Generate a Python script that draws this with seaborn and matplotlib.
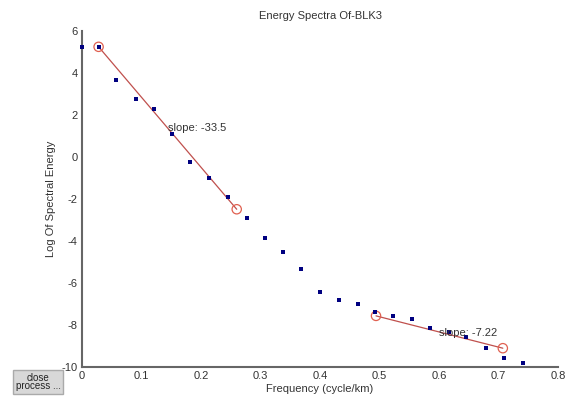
import matplotlib
matplotlib.use("Agg")
import matplotlib.pyplot as plt
import seaborn as sns
import pandas as pd

# spectrum points (frequency cycle/km, log spectral energy)
freq = [0.0, 0.028, 0.058, 0.090, 0.1215, 0.152, 0.182, 0.214, 0.245, 0.277,
        0.3076, 0.337, 0.3686, 0.40, 0.431, 0.463, 0.492, 0.523, 0.555, 0.585,
        0.616, 0.645, 0.678, 0.709, 0.741]
log_energy = [5.25, 5.25, 3.67, 2.76, 2.30, 1.08, -0.24, -1.0, -1.92, -2.92,
              -3.87, -4.54, -5.33, -6.41, -6.83, -7.01, -7.40, -7.57, -7.71, -8.13,
              -8.35, -8.6, -9.08, -9.56, -9.8]

# fitted segments (end points picked by user)
fit1_x = [0.028, 0.26]
fit1_y = [5.25, -2.49]
fit2_x = [0.494, 0.707]
fit2_y = [-7.57, -9.11]
slope_labels = ["slope: -33.5", "slope: -7.22"]
label_pos = [(0.144, 1.38), (0.60, -8.38)]

sns.set_style("white")
plt.rcParams["font.family"] = ["Liberation Sans", "DejaVu Sans"]
plt.rcParams["axes.unicode_minus"] = False

fig = plt.figure(figsize=(5.69, 4.09), dpi=100)
ax = fig.add_axes([0.144, 0.103, 0.837, 0.821])

df = pd.DataFrame({"freq": freq, "energy": log_energy})
sns.scatterplot(data=df, x="freq", y="energy", ax=ax, color="#000080",
                marker="s", s=8, linewidth=0, clip_on=False, zorder=4)

line_col = "#c0504d"
for fx, fy in [(fit1_x, fit1_y), (fit2_x, fit2_y)]:
    sns.lineplot(x=fx, y=fy, ax=ax, color=line_col, linewidth=0.9)
    ax.scatter(fx, fy, s=45, facecolors="none", edgecolors="#e06050", linewidths=0.9, zorder=3)

for txt, (tx, ty) in zip(slope_labels, label_pos):
    ax.text(tx, ty, txt, fontsize=8, color="#333333", va="center", ha="left", zorder=5)

ax.set_xlim(0, 0.8)
ax.set_ylim(-10, 6)
ax.set_xticks([0, 0.1, 0.2, 0.3, 0.4, 0.5, 0.6, 0.7, 0.8])
ax.set_xticklabels(["0", "0.1", "0.2", "0.3", "0.4", "0.5", "0.6", "0.7", "0.8"])
ax.set_yticks(range(-10, 7, 2))
ax.set_title("Energy Spectra Of-BLK3", fontsize=8, color="#333333", pad=9)
ax.set_xlabel("Frequency (cycle/km)", fontsize=8, color="#333333", labelpad=2)
ax.set_ylabel("Log Of Spectral Energy", fontsize=8, color="#333333", labelpad=4)

for s in ["top", "right"]:
    ax.spines[s].set_visible(False)
for s in ["left", "bottom"]:
    ax.spines[s].set_color("#666666")
    ax.spines[s].set_linewidth(1.5)
ax.tick_params(direction="in", length=4, width=0.8, colors="#555555",
               labelsize=8, labelcolor="#333333", pad=3)

# leftover GUI button
fig.text(0.067, 0.066, "close\nprocess ...", fontsize=7, ha="center", va="center",
         linespacing=0.85, color="#222222",
         bbox=dict(boxstyle="square,pad=0.3", fc="#d8d8d8", ec="#aaaaaa"))

fig.savefig("out.png", dpi=100)
